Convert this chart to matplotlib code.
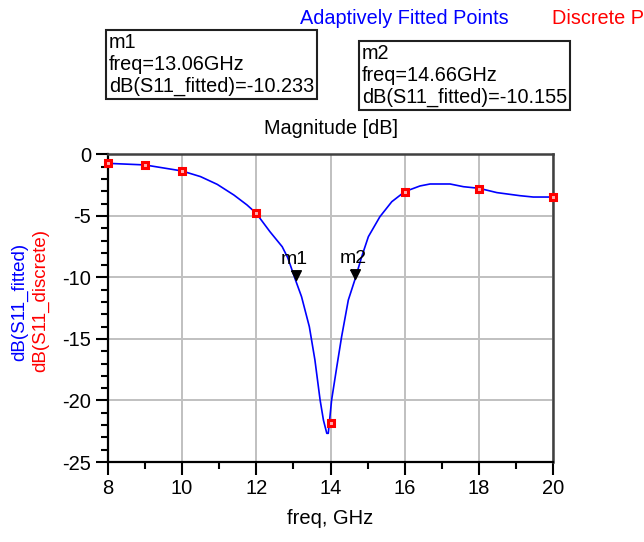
import matplotlib
matplotlib.use("Agg")
import matplotlib.pyplot as plt
from matplotlib.ticker import MultipleLocator

plt.rcParams['font.family'] = ['Liberation Sans', 'DejaVu Sans']
plt.rcParams['axes.unicode_minus'] = False

# Adaptively fitted curve
fit_freq = [8.0, 9.0, 10.0, 10.5, 10.95, 11.4, 11.75, 12.0, 12.37, 12.7, 12.85,
            13.06, 13.22, 13.43, 13.58, 13.72, 13.81, 13.90, 13.94, 14.03, 14.17,
            14.30, 14.48, 14.66, 14.84, 15.02, 15.33, 15.65, 16.0, 16.41, 16.68,
            17.22, 17.58, 18.0, 18.48, 19.1, 19.46, 20.0]
fit_db = [-0.72, -0.85, -1.34, -1.8, -2.43, -3.3, -4.1, -4.78, -6.28, -7.5, -8.4,
          -10.23, -11.56, -14.0, -16.7, -19.96, -21.6, -22.67, -22.67, -19.96, -17.25,
          -14.8, -11.83, -10.15, -8.31, -6.68, -5.06, -3.84, -3.02, -2.56, -2.4,
          -2.4, -2.62, -2.75, -3.1, -3.35, -3.46, -3.46]

# Discrete points
disc_freq = [8, 9, 10, 12, 14, 16, 18, 20]
disc_db = [-0.72, -0.85, -1.34, -4.78, -21.85, -3.05, -2.78, -3.45]

# Markers
mk_names = ["m1", "m2"]
mk_freq = [13.06, 14.66]
mk_db = [-10.233, -10.155]

x_ticks = [8, 10, 12, 14, 16, 18, 20]
y_ticks = [0, -5, -10, -15, -20, -25]

fig = plt.figure(figsize=(6.44, 5.42), dpi=100)
ax = fig.add_axes([0.1672, 0.1476, 0.692, 0.5674])

ax.plot(fit_freq, fit_db, color='#0000ff', lw=1.2, zorder=3)
ax.plot(disc_freq, disc_db, ls='none', marker='s', ms=5, mfc='#ffb0b0',
        mec='#ff0000', mew=2.2, zorder=4, clip_on=False)

tri = [(-0.5, 1.0), (0.5, 1.0), (0.0, 0.0), (-0.5, 1.0)]
for name, f, d in zip(mk_names, mk_freq, mk_db):
    ax.plot([f], [d], ls='none', marker=tri, ms=14, color='black', zorder=5)
    ax.annotate(name, (f, d), xytext=(-1, 9), textcoords='offset points',
                ha='center', va='bottom', fontsize=14, color='black')

ax.set_xlim(8, 20)
ax.set_ylim(-25, 0)
ax.set_xticks(x_ticks)
ax.set_yticks(y_ticks)
ax.xaxis.set_minor_locator(MultipleLocator(1))
ax.yaxis.set_minor_locator(MultipleLocator(1))
ax.grid(True, which='major', color='#c0c0c0', lw=1.4)
ax.set_axisbelow(True)
ax.tick_params(axis='both', which='major', direction='out', length=9, width=1.5,
               labelsize=14.5, pad=3, color='black')
ax.tick_params(axis='both', which='minor', direction='out', length=5, width=1.5,
               color='black')
for s in ['left', 'bottom']:
    ax.spines[s].set_color('black')
    ax.spines[s].set_linewidth(1.6)
for s in ['top', 'right']:
    ax.spines[s].set_color('#404040')
    ax.spines[s].set_linewidth(1.8)

ax.set_xlabel('freq, GHz', fontsize=14.5, labelpad=8)

# y labels (two colored lines)
fig.text(20 / 644, 1 - 302 / 542, 'dB(S11_fitted)', color='#0000ff', rotation=90,
         ha='center', va='center', fontsize=13.5)
fig.text(41 / 644, 1 - 300 / 542, 'dB(S11_discrete)', color='#ff0000', rotation=90,
         ha='center', va='center', fontsize=13.5)

# top legend texts
fig.text(300 / 644, 1 - 19 / 542, 'Adaptively Fitted Points', color='#0000ff',
         ha='left', va='center', fontsize=14.3)
fig.text(552 / 644, 1 - 19 / 542, 'Discrete Points', color='#ff0000',
         ha='left', va='center', fontsize=14.3)

fig.text(331 / 644, 1 - 128 / 542, 'Magnitude [dB]', color='black',
         ha='center', va='center', fontsize=14.3)

# marker readout boxes
box_texts = ["m1\nfreq=13.06GHz\ndB(S11_fitted)=-10.233",
             "m2\nfreq=14.66GHz\ndB(S11_fitted)=-10.155"]
box_pos = [(109, 33), (362, 44)]
for t, (bx, by) in zip(box_texts, box_pos):
    fig.text(bx / 644, 1 - by / 542, t, ha='left', va='top', fontsize=14.3,
             linespacing=1.2,
             bbox=dict(boxstyle='square,pad=0.15', fc='white', ec='#202020', lw=1.5))

fig.savefig('out.png', dpi=100)
